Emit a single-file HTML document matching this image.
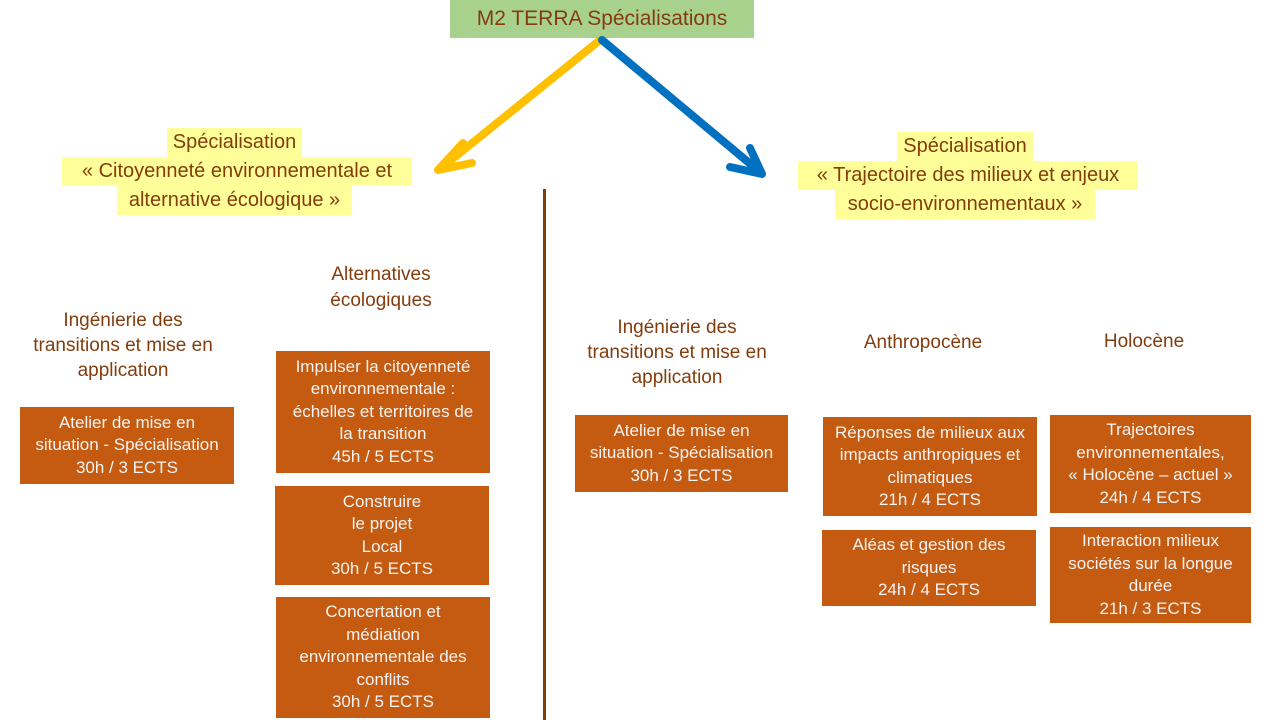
<!DOCTYPE html>
<html><head><meta charset="utf-8">
<style>
html,body{margin:0;padding:0;}
body{width:1280px;height:720px;position:relative;overflow:hidden;background:#fff;font-family:"Liberation Sans",sans-serif;}
.abs{position:absolute;}
.hl{position:absolute;background:#FFFF99;color:#843C0C;font-size:20px;text-align:center;white-space:nowrap;line-height:29px;height:29px;}
.hd{position:absolute;color:#843C0C;font-size:19px;text-align:center;line-height:25px;white-space:nowrap;}
.box{position:absolute;background:#C55A11;color:#F4F4F4;font-size:17px;line-height:22.5px;text-align:center;display:flex;align-items:center;justify-content:center;white-space:nowrap;}
</style></head><body>

<div class="abs" style="left:450px;top:0;width:304px;height:38px;background:#A9D18E;color:#843C0C;font-size:21px;line-height:38px;text-align:center;">M2 TERRA Spécialisations</div>

<svg class="abs" style="left:0;top:0" width="1280" height="720">
  <g stroke="#FFC000" stroke-width="8" stroke-linecap="round" fill="none">
    <line x1="600" y1="40" x2="440" y2="169"/>
    <polyline points="463,143 438,170 472,163" stroke-linejoin="round"/>
  </g>
  <g stroke="#0070C0" stroke-width="8" stroke-linecap="round" fill="none">
    <line x1="602" y1="40" x2="760" y2="172"/>
    <polyline points="750,148 762,174 730,167" stroke-linejoin="round"/>
  </g>
  <rect x="543" y="189" width="3" height="531" fill="#843C0C"/>
</svg>

<div class="hl" style="left:167px;top:128px;width:135px;">Spécialisation</div>
<div class="hl" style="left:62px;top:157px;width:350px;">« Citoyenneté environnementale et</div>
<div class="hl" style="left:117px;top:186px;width:235px;">alternative écologique »</div>

<div class="hl" style="left:897px;top:132px;width:136px;">Spécialisation</div>
<div class="hl" style="left:798px;top:161px;width:340px;">« Trajectoire des milieux et enjeux</div>
<div class="hl" style="left:835px;top:190px;width:260px;">socio-environnementaux »</div>

<div class="hd" style="left:281px;top:262px;width:200px;line-height:26px;">Alternatives<br>écologiques</div>
<div class="hd" style="left:13px;top:308px;width:220px;">Ingénierie des<br>transitions et mise en<br>application</div>
<div class="hd" style="left:567px;top:315px;width:220px;">Ingénierie des<br>transitions et mise en<br>application</div>
<div class="hd" style="left:823px;top:330px;width:200px;">Anthropocène</div>
<div class="hd" style="left:1044px;top:329px;width:200px;">Holocène</div>

<div class="box" style="left:20px;top:407px;width:214px;height:77px;">Atelier de mise en<br>situation - Spécialisation<br>30h / 3 ECTS</div>

<div class="box" style="left:276px;top:351px;width:214px;height:122px;">Impulser la citoyenneté<br>environnementale :<br>échelles et territoires de<br>la transition<br>45h / 5 ECTS</div>
<div class="box" style="left:275px;top:486px;width:214px;height:99px;">Construire<br>le projet<br>Local<br>30h / 5 ECTS</div>
<div class="box" style="left:276px;top:597px;width:214px;height:121px;">Concertation et<br>médiation<br>environnementale des<br>conflits<br>30h / 5 ECTS</div>

<div class="box" style="left:575px;top:415px;width:213px;height:77px;">Atelier de mise en<br>situation - Spécialisation<br>30h / 3 ECTS</div>

<div class="box" style="left:823px;top:417px;width:214px;height:99px;">Réponses de milieux aux<br>impacts anthropiques et<br>climatiques<br>21h / 4 ECTS</div>
<div class="box" style="left:822px;top:530px;width:214px;height:76px;">Aléas et gestion des<br>risques<br>24h / 4 ECTS</div>
<div class="box" style="left:1050px;top:415px;width:201px;height:98px;">Trajectoires<br>environnementales,<br>« Holocène – actuel »<br>24h / 4 ECTS</div>
<div class="box" style="left:1050px;top:527px;width:201px;height:96px;">Interaction milieux<br>sociétés sur la longue<br>durée<br>21h / 3 ECTS</div>

</body></html>
